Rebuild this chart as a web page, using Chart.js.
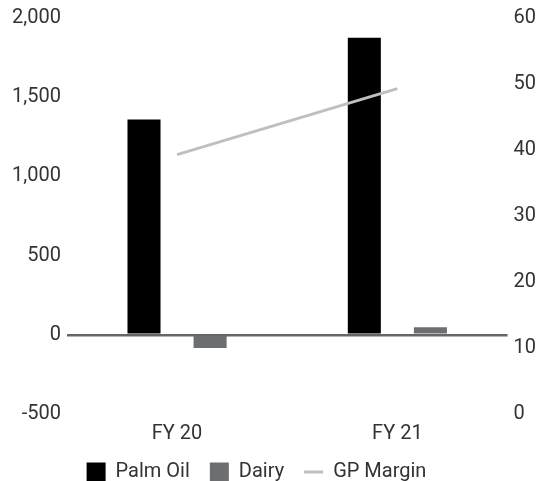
<!DOCTYPE html>
<html lang="en">
<head>
    <meta charset="UTF-8">
    <title>Palm Oil / Dairy / GP Margin</title>
    <script src="https://cdn.jsdelivr.net/npm/chart.js"></script>
    <style>
        html, body { margin: 0; padding: 0; background: #fff; }
        #chart-container { width: 542px; height: 481px; }
    </style>
</head>
<body>

<div id="chart-container">
    <canvas id="gpChart"></canvas>
</div>

<script>
    // valeurs
    const categories = ['FY 20', 'FY 21'];
    const palmOil = [1360, 1876];
    const dairy = [-84, 48];
    const gpMargin = [39.3, 49.3];

    const leftMin = -500, leftMax = 2000, leftStep = 500;
    const rightMin = 0, rightMax = 60, rightStep = 10;

    const textColor = '#333333';
    const font = { family: 'Roboto', size: 20 };

    // hauteur fixe de la légende + petit décalage vers la gauche
    const legendPlace = {
        id: 'legendPlace',
        beforeLayout(chart) {
            const legend = chart.legend;
            if (legend && !legend._patched) {
                const fit = legend.fit;
                legend.fit = function () {
                    fit.call(this);
                    this.height = 39;
                };
                legend._patched = true;
            }
        },
        afterLayout(chart) {
            chart.legend.right -= 35;
        }
    };

    const ctx = document.getElementById('gpChart').getContext('2d');

    new Chart(ctx, {
        type: 'bar',
        data: {
            labels: categories,
            datasets: [
                {
                    label: 'Palm Oil',
                    data: palmOil,
                    backgroundColor: '#000000',
                    yAxisID: 'y',
                    pointStyle: 'rect',
                    categoryPercentage: 0.6,
                    barPercentage: 0.5
                },
                {
                    label: 'Dairy',
                    data: dairy,
                    backgroundColor: '#6d6e71',
                    yAxisID: 'y',
                    pointStyle: 'rect',
                    categoryPercentage: 0.6,
                    barPercentage: 0.5
                },
                {
                    type: 'line',
                    label: 'GP Margin',
                    data: gpMargin,
                    borderColor: '#bfbfbf',
                    backgroundColor: '#bfbfbf',
                    borderWidth: 3,
                    pointRadius: 0,
                    pointStyle: 'line',
                    yAxisID: 'y1',
                    order: -1
                }
            ]
        },
        plugins: [legendPlace],
        options: {
            responsive: true,
            maintainAspectRatio: false,
            animation: false,
            layout: { padding: { left: 6, right: 0, top: 14, bottom: 0 } },
            plugins: {
                tooltip: { enabled: false },
                legend: {
                    position: 'bottom',
                    labels: {
                        usePointStyle: true,
                        pointStyleWidth: 19,
                        boxHeight: 19,
                        padding: 20,
                        color: textColor,
                        font: font,
                        sort: (a, b) => a.datasetIndex - b.datasetIndex
                    }
                }
            },
            scales: {
                x: {
                    grid: { display: false, drawTicks: false },
                    border: { display: false },
                    ticks: { color: textColor, font: font, padding: 8 },
                    afterFit: s => { s.height = 28; }
                },
                y: {
                    position: 'left',
                    min: leftMin,
                    max: leftMax,
                    border: { display: false },
                    grid: {
                        drawTicks: false,
                        lineWidth: 2.5,
                        color: c => c.tick && c.tick.value === 0 ? '#666666' : 'rgba(0,0,0,0)'
                    },
                    ticks: {
                        stepSize: leftStep,
                        color: textColor,
                        font: font,
                        padding: 6,
                        callback: v => v.toLocaleString('en-US')
                    }
                },
                y1: {
                    position: 'right',
                    min: rightMin,
                    max: rightMax,
                    border: { display: false },
                    grid: { display: false, drawTicks: false },
                    ticks: { stepSize: rightStep, color: textColor, font: font, padding: 6 }
                }
            }
        }
    });
</script>

</body>
</html>
